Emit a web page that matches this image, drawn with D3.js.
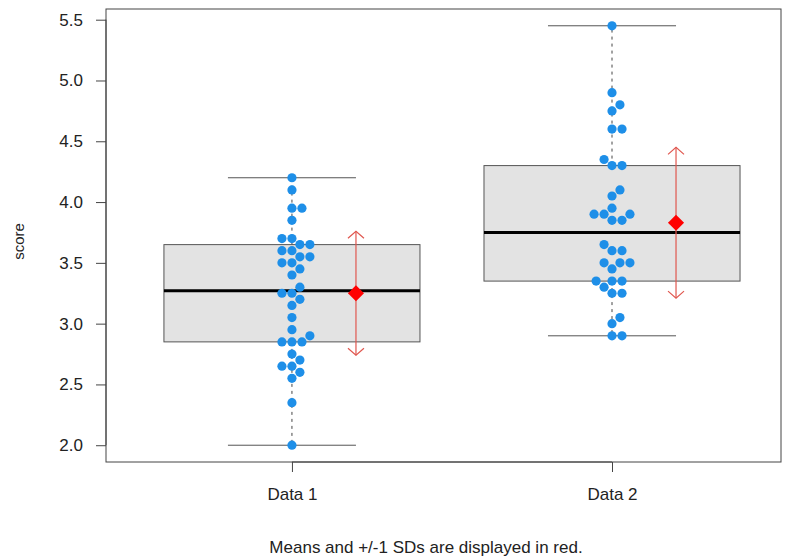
<!DOCTYPE html>
<html>
<head>
<meta charset="utf-8">
<script src="https://cdn.jsdelivr.net/npm/d3@7"></script>
<style>
  body { margin: 0; background: #fff; }
  text { font-family: "Liberation Sans", Arial, sans-serif; }
</style>
</head>
<body>
<div id="chart"></div>
<script>
const groups = ["Data 1", "Data 2"];

const data1 = [4.2, 4.1, 3.95, 3.95, 3.85, 3.7, 3.7, 3.65, 3.65, 3.6, 3.6, 3.55, 3.55,
  3.5, 3.5, 3.45, 3.4, 3.3, 3.25, 3.25, 3.2, 3.15, 3.05, 2.95, 2.9, 2.85, 2.85,
  2.85, 2.75, 2.7, 2.65, 2.65, 2.6, 2.55, 2.35, 2.0];
const data2 = [5.45, 4.9, 4.8, 4.75, 4.6, 4.6, 4.35, 4.3, 4.3, 4.1, 4.05, 3.95, 3.9,
  3.9, 3.9, 3.85, 3.85, 3.65, 3.6, 3.6, 3.5, 3.5, 3.5, 3.45, 3.35, 3.35, 3.35,
  3.3, 3.25, 3.25, 3.05, 3.0, 2.9, 2.9];

// box stats
const whiskLow  = [2.0, 2.9];
const q1        = [2.85, 3.35];
const medians   = [3.27, 3.75];
const q3        = [3.65, 4.3];
const whiskHigh = [4.2, 5.45];

const means = [3.25, 3.83];
const sds   = [0.51, 0.62];

const yTicks = [2.0, 2.5, 3.0, 3.5, 4.0, 4.5, 5.0, 5.5];

const W = 787, H = 560;
const plot = { left: 106, right: 781, top: 9, bottom: 462 };

const svg = d3.select("#chart").append("svg")
    .attr("width", W)
    .attr("height", H);

const y = d3.scaleLinear().domain([1.862, 5.588]).range([plot.bottom, plot.top]);
const x = d3.scaleLinear().domain([0.419, 2.528]).range([plot.left, plot.right]);

const series = [data1, data2];

// boxes
groups.forEach((g, i) => {
    const c = i + 1;
    const gg = svg.append("g");
    // whiskers
    gg.append("line")
        .attr("x1", x(c)).attr("x2", x(c))
        .attr("y1", y(q3[i])).attr("y2", y(whiskHigh[i]))
        .attr("stroke", "#444").attr("stroke-dasharray", "3,4");
    gg.append("line")
        .attr("x1", x(c)).attr("x2", x(c))
        .attr("y1", y(q1[i])).attr("y2", y(whiskLow[i]))
        .attr("stroke", "#444").attr("stroke-dasharray", "3,4");
    [whiskLow[i], whiskHigh[i]].forEach(v => {
        gg.append("line")
            .attr("x1", x(c - 0.2)).attr("x2", x(c + 0.2))
            .attr("y1", y(v)).attr("y2", y(v))
            .attr("stroke", "#555");
    });
    gg.append("rect")
        .attr("x", x(c - 0.4))
        .attr("y", y(q3[i]))
        .attr("width", x(c + 0.4) - x(c - 0.4))
        .attr("height", y(q1[i]) - y(q3[i]))
        .attr("fill", "#e3e3e3")
        .attr("stroke", "#555");
    gg.append("line")
        .attr("x1", x(c - 0.4)).attr("x2", x(c + 0.4))
        .attr("y1", y(medians[i])).attr("y2", y(medians[i]))
        .attr("stroke", "#000").attr("stroke-width", 3);
});

// swarm layout, points placed in ascending order
const spacing = 10;
function swarm(values) {
    const sorted = values.slice().sort((a, b) => a - b);
    const placed = [];
    sorted.forEach(v => {
        const py = y(v);
        const near = placed.filter(p => Math.abs(p.py - py) < spacing);
        const cands = [0];
        near.forEach(p => {
            const dx = Math.sqrt(spacing * spacing - (p.py - py) ** 2);
            cands.push(p.dx + dx, p.dx - dx);
        });
        const ok = cands.filter(cx => near.every(p =>
            Math.hypot(p.dx - cx, p.py - py) >= spacing - 1e-6));
        ok.sort((a, b) => Math.abs(a) - Math.abs(b) || b - a);
        placed.push({ v, py, dx: ok[0] });
    });
    return placed;
}

series.forEach((vals, i) => {
    const pts = swarm(vals);
    svg.append("g").selectAll("circle")
        .data(pts)
        .enter().append("circle")
        .attr("cx", d => x(i + 1) + d.dx)
        .attr("cy", d => d.py)
        .attr("r", 4.6)
        .attr("fill", "#1e8fe8");
});

// means +/- 1 SD
groups.forEach((g, i) => {
    const mx = x(i + 1.2);
    const lo = y(means[i] - sds[i]), hi = y(means[i] + sds[i]);
    const red = "#e0574f";
    svg.append("line")
        .attr("x1", mx).attr("x2", mx)
        .attr("y1", hi).attr("y2", lo)
        .attr("stroke", red).attr("stroke-width", 1.2);
    svg.append("path")
        .attr("d", `M${mx - 8},${hi + 7}L${mx},${hi}L${mx + 8},${hi + 7}`)
        .attr("fill", "none").attr("stroke", red).attr("stroke-width", 1.2);
    svg.append("path")
        .attr("d", `M${mx - 8},${lo - 7}L${mx},${lo}L${mx + 8},${lo - 7}`)
        .attr("fill", "none").attr("stroke", red).attr("stroke-width", 1.2);
    svg.append("path")
        .attr("d", d3.symbol().type(d3.symbolSquare).size(130)())
        .attr("transform", `translate(${mx},${y(means[i])}) rotate(45)`)
        .attr("fill", "#ff0000");
});

// frame
svg.append("rect")
    .attr("x", plot.left).attr("y", plot.top)
    .attr("width", plot.right - plot.left).attr("height", plot.bottom - plot.top)
    .attr("fill", "none").attr("stroke", "#444");

// axes
const yAxis = svg.append("g")
    .attr("transform", `translate(${plot.left},0)`)
    .call(d3.axisLeft(y).tickValues(yTicks).tickFormat(d3.format(".1f"))
        .tickSize(10).tickSizeOuter(0).tickPadding(13));
yAxis.select(".domain").attr("d", `M0,${y(2)}V${y(5.5)}`).attr("stroke", "#444");
yAxis.selectAll(".tick line").attr("stroke", "#444");
yAxis.selectAll("text").style("font-size", "17px").attr("fill", "#222")
    .attr("font-family", "Liberation Sans, Arial, sans-serif");

const xAxis = svg.append("g")
    .attr("transform", `translate(0,${plot.bottom})`)
    .call(d3.axisBottom(x).tickValues([1, 2]).tickFormat(d => groups[d - 1])
        .tickSize(10).tickSizeOuter(0).tickPadding(16));
xAxis.select(".domain").attr("d", `M${x(1)},0H${x(2)}`).attr("stroke", "#444");
xAxis.selectAll(".tick line").attr("stroke", "#444");
xAxis.selectAll("text").style("font-size", "17px").attr("fill", "#222")
    .attr("font-family", "Liberation Sans, Arial, sans-serif");

svg.append("text")
    .attr("transform", `translate(24,${(plot.top + plot.bottom) / 2 + 6}) rotate(-90)`)
    .attr("text-anchor", "middle")
    .style("font-size", "15px")
    .attr("fill", "#222")
    .text("score");

svg.append("text")
    .attr("x", 426)
    .attr("y", 553)
    .attr("text-anchor", "middle")
    .style("font-size", "17px")
    .attr("fill", "#222")
    .text("Means and +/-1 SDs are displayed in red.");
</script>
</body>
</html>
